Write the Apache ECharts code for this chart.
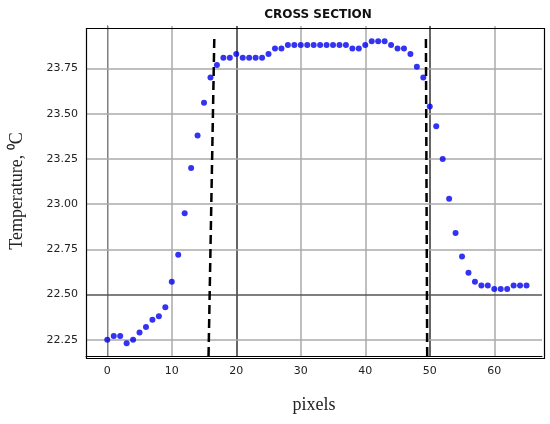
<!DOCTYPE html>
<html>
<head>
<meta charset="utf-8">
<script src="https://cdn.jsdelivr.net/npm/echarts@6/dist/echarts.min.js"></script>
<style>html,body{margin:0;padding:0;background:#fff}#chart{width:550px;height:424px}</style>
</head>
<body>
<div id="chart"></div>
<script>
var pixels = [];
for (var i = 0; i <= 65; i++) pixels.push(i);
var temps = [
    22.25, 22.27, 22.27, 22.23, 22.25, 22.29, 22.32, 22.36, 22.38, 22.43,
    22.57, 22.72, 22.95, 23.20, 23.38, 23.56, 23.70, 23.77, 23.81, 23.81,
    23.83, 23.81, 23.81, 23.81, 23.81, 23.83, 23.86, 23.86, 23.88, 23.88,
    23.88, 23.88, 23.88, 23.88, 23.88, 23.88, 23.88, 23.88, 23.86, 23.86,
    23.88, 23.90, 23.90, 23.90, 23.88, 23.86, 23.86, 23.83, 23.76, 23.70,
    23.54, 23.43, 23.25, 23.03, 22.84, 22.71, 22.62, 22.57, 22.55, 22.55,
    22.53, 22.53, 22.53, 22.55, 22.55, 22.55
];
var yTicks = [22.25, 22.5, 22.75, 23.0, 23.25, 23.5, 23.75];

var myChart = echarts.init(document.getElementById('chart'));
var yMin = 22.16, yMax = 23.985;
var option = {
    backgroundColor: '#fff',
    title: {
        text: 'CROSS SECTION',
        left: 313, top: 4, textAlign: 'center',
        textStyle: {fontSize: 12, fontWeight: 'bold', fontFamily: 'DejaVu Sans', color: '#111'}
    },
    grid: {left: 84, right: 8, top: 26, bottom: 68},
    // plot frame
    graphic: [{
        type: 'rect', left: 84, top: 26, z: 10, silent: true,
        shape: {width: 458, height: 330},
        style: {fill: 'none', stroke: '#000', lineWidth: 1.2}
    }],
    xAxis: {
        type: 'value', min: -3.3, max: 67.4,
        name: 'pixels', nameLocation: 'middle', nameGap: 40,
        nameTextStyle: {fontFamily: 'Liberation Serif', fontSize: 18, color: '#222'},
        axisLine: {lineStyle: {color: '#000'}},
        axisTick: {show: false},
        axisLabel: {
            color: '#222', fontSize: 11, fontFamily: 'DejaVu Sans', margin: 10,
            customValues: [0, 10, 20, 30, 40, 50, 60]
        },
        splitLine: {show: false}
    },
    yAxis: {
        type: 'value', min: yMin, max: yMax,
        name: 'Temperature, \u2070C', nameLocation: 'middle', nameGap: 60,
        nameTextStyle: {fontFamily: 'Liberation Serif', fontSize: 18, color: '#222'},
        axisLine: {show: true, lineStyle: {color: '#000'}},
        axisTick: {show: false},
        axisLabel: {
            color: '#222', fontSize: 11, fontFamily: 'DejaVu Sans',
            customValues: yTicks,
            formatter: function (v) { return v.toFixed(2); }
        },
        splitLine: {show: false}
    },
    series: [{
        type: 'scatter',
        symbolSize: 6,
        itemStyle: {color: '#0000ee'},
        data: pixels.map(function (x, i) { return [x, temps[i]]; }),
        markLine: {
            silent: true, symbol: 'none', label: {show: false},
            data: [0, 10, 20, 30, 40, 50, 60].map(function (v) {
                return {xAxis: v, lineStyle: {color: (v === 20 || v === 50) ? '#333' : '#aaa', width: 1.5, type: 'solid'}};
            }).concat(yTicks.map(function (v) {
                return {yAxis: v, lineStyle: {color: (v === 22.5) ? '#555' : '#aaa', width: 1.5, type: 'solid'}};
            })).concat([
                [{coord: [15.7, yMin], lineStyle: {color: '#000', width: 2.5, type: [9, 5]}}, {coord: [16.6, 23.93]}],
                [{coord: [49.6, yMin], lineStyle: {color: '#000', width: 2.5, type: [9, 5]}}, {coord: [49.4, 23.93]}]
            ])
        },
        z: 5
    }]
};
myChart.setOption(option);
</script>
</body>
</html>
